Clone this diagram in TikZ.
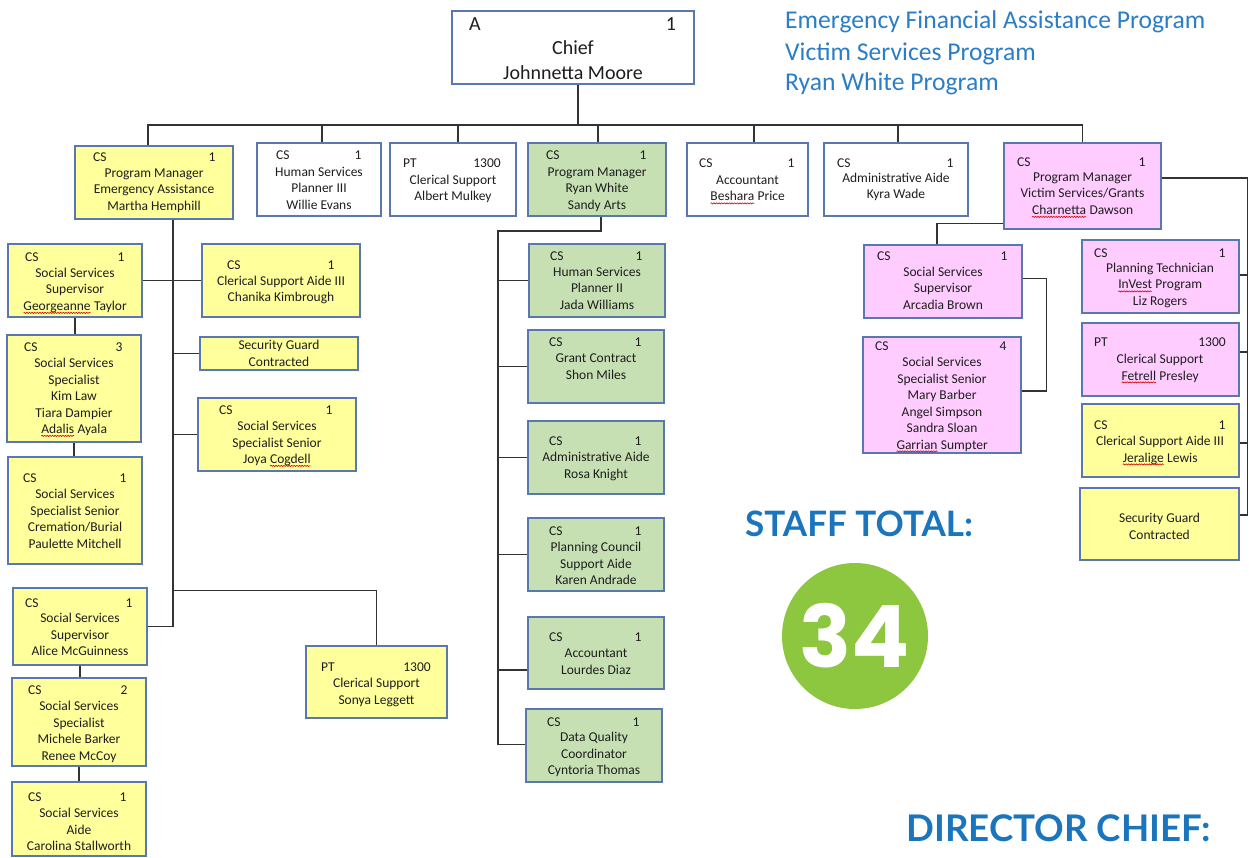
\documentclass[tikz,border=0pt]{standalone}
\usepackage{fontspec}
\setmainfont{Carlito}
\newfontfamily\latofont{Lato}
\newfontfamily\popfont{Poppins}
\usetikzlibrary{decorations.pathmorphing,calc}
\definecolor{bxborder}{HTML}{5A78B0}
\definecolor{yel}{HTML}{FFFF9B}
\definecolor{grn}{HTML}{C6E0B4}
\definecolor{pnk}{HTML}{FFCCFF}
\definecolor{hblue}{HTML}{2A7DC6}
\definecolor{sblue}{HTML}{1A75BC}
\definecolor{cgreen}{HTML}{8DC63F}
\definecolor{txcol}{HTML}{1E1E1E}
\newcommand\lns[1]{\begin{tabular}[t]{@{}c@{}}#1\end{tabular}}
\newcommand\sq[1]{\tikz[baseline=(sqw.base)]{\node[inner sep=0pt,outer sep=0pt,anchor=base] (sqw) {#1};\draw[red!85!black,line width=0.6pt,decorate,decoration={snake,amplitude=0.6pt,segment length=2.6pt}] ([yshift=-2.4pt]sqw.base west) -- ([yshift=-2.4pt]sqw.base east);}}
\newcommand\bx[6]{\node[orgbox,fill=#6,minimum width={#4-#2},minimum height={#5-#3}] (#1) at ({(#2+#4)/2},{(#3+#5)/2}) {};}
\newcommand\tl[4]{\node[tx] (#1-t) at (#2,#3+4.5) {\lns{#4}};}
\newcommand\cn[6]{\node[lab] (#1-c) at (#3,#4+4.5) {#2};\node[numlab] (#1-n) at (#6,#4+4.5) {#5};}
\begin{document}
\begin{tikzpicture}[x=1pt,y=-1pt,
  orgbox/.style={draw=bxborder,line width=1.1pt,rectangle,inner sep=0pt},
  tx/.style={font=\fontsize{13.5}{16.5}\selectfont,anchor=base,inner sep=0pt,text=txcol},
  lab/.style={font=\fontsize{13.5}{16.5}\selectfont,anchor=base west,inner sep=0pt,text=txcol},
  numlab/.style={font=\fontsize{13.5}{16.5}\selectfont,anchor=base,inner sep=0pt,text=txcol},
  conn/.style={draw=black!80,line width=1.1pt},
  hdr/.style={font=\fontsize{25.6}{30}\selectfont,anchor=base west,inner sep=0pt,text=hblue},
  big/.style={font=\latofont\bfseries,anchor=base west,inner sep=0pt,text=sblue}]
\useasboundingbox (0,0) rectangle (1249,858);
% boxes
\bx{chief}{452}{11}{694}{84}{white}
\bx{emg}{75}{146}{233}{219}{yel}
\bx{hsp}{257}{143}{381}{216}{white}
\bx{clr}{390}{143}{516}{216}{white}
\bx{rw}{528}{143}{666}{216}{grn}
\bx{acc}{687}{143}{808}{216}{white}
\bx{adm}{824}{143}{968}{216}{white}
\bx{vic}{1004}{143}{1161}{229}{pnk}
\bx{geo}{8}{244}{142}{317}{yel}
\bx{chk}{202}{244}{360}{317}{yel}
\bx{kim}{7}{335}{141}{442}{yel}
\bx{pau}{8}{457}{142}{564}{yel}
\bx{sga}{200}{337}{358}{370}{yel}
\bx{joy}{198}{398}{356}{471}{yel}
\bx{ali}{13}{588}{147}{665}{yel}
\bx{mic}{12}{678}{146}{766}{yel}
\bx{car}{12}{782}{146}{856}{yel}
\bx{son}{306}{646}{447}{718}{yel}
\bx{jad}{529}{244}{665}{317}{grn}
\bx{sho}{528}{330}{664}{403}{grn}
\bx{ros}{528}{421}{664}{494}{grn}
\bx{kar}{528}{518}{664}{591}{grn}
\bx{lou}{528}{617}{664}{689}{grn}
\bx{cyn}{526}{709}{662}{782}{grn}
\bx{arc}{864}{245}{1022}{318}{pnk}
\bx{mar}{863}{337}{1021}{453}{pnk}
\bx{liz}{1082}{240}{1239}{313}{pnk}
\bx{fet}{1082}{323}{1239}{396}{pnk}
\bx{jer}{1082}{404}{1239}{477}{yel}
\bx{sgb}{1080}{488}{1239}{560}{yel}
% chief text
\node[tx,font=\fontsize{20}{25}\selectfont] (chief-t) at (573,48+7) {\lns{Chief\\Johnnetta Moore}};
\node[lab,font=\fontsize{20}{25}\selectfont] (chief-c) at (469,24+7) {A};
\node[numlab,font=\fontsize{20}{25}\selectfont] (chief-n) at (671,24+7) {1};
% box texts
\tl{emg}{154}{173}{Program Manager\\Emergency Assistance\\Martha Hemphill}
\cn{emg}{CS}{93}{157}{1}{212}
\tl{hsp}{319}{172}{Human Services\\Planner III\\Willie Evans}
\cn{hsp}{CS}{276}{155}{1}{358}
\tl{clr}{453}{180}{Clerical Support\\Albert Mulkey}
\cn{clr}{PT}{403}{163}{1300}{487}
\tl{rw}{597}{172}{Program Manager\\Ryan White\\Sandy Arts}
\cn{rw}{CS}{546}{155}{1}{643}
\tl{acc}{747.5}{180}{Accountant\\\sq{Beshara} Price}
\cn{acc}{CS}{699}{163}{1}{791}
\tl{adm}{896}{178}{Administrative Aide\\Kyra Wade}
\cn{adm}{CS}{837}{163}{1}{950}
\tl{vic}{1082.5}{177}{Program Manager\\Victim Services/Grants\\\sq{Charnetta} Dawson}
\cn{vic}{CS}{1017}{162}{1}{1142}
\tl{geo}{75}{273}{Social Services\\Supervisor\\\sq{Georgeanne} Taylor}
\cn{geo}{CS}{25}{257}{1}{121}
\tl{chk}{281}{281}{Clerical Support Aide III\\Chanika Kimbrough}
\cn{chk}{CS}{227}{265}{1}{331}
\tl{kim}{74}{363}{Social Services\\Specialist\\Kim Law\\Tiara Dampier\\\sq{Adalis} Ayala}
\cn{kim}{CS}{24}{347}{3}{119}
\tl{pau}{75}{494}{Social Services\\Specialist Senior\\Cremation/Burial\\Paulette Mitchell}
\cn{pau}{CS}{23}{478}{1}{123}
\tl{sga}{279}{345}{Security Guard\\Contracted}
\tl{joy}{277}{426}{Social Services\\Specialist Senior\\Joya \sq{Cogdell}}
\cn{joy}{CS}{219}{410}{1}{329}
\tl{ali}{80}{618}{Social Services\\Supervisor\\Alice McGuinness}
\cn{ali}{CS}{25}{603}{1}{129}
\tl{mic}{79}{706}{Social Services\\Specialist\\Michele Barker\\Renee McCoy}
\cn{mic}{CS}{28}{690}{2}{124}
\tl{car}{79}{813}{Social Services\\Aide\\Carolina Stallworth}
\cn{car}{CS}{28}{797}{1}{123}
\tl{son}{376.5}{683}{Clerical Support\\Sonya Leggett}
\cn{son}{PT}{321}{667}{1300}{417}
\tl{jad}{597}{272}{Human Services\\Planner II\\Jada Williams}
\cn{jad}{CS}{550}{256}{1}{639}
\tl{sho}{596}{358}{Grant Contract\\Shon Miles}
\cn{sho}{CS}{549}{342}{1}{638}
\tl{ros}{596}{457}{Administrative Aide\\Rosa Knight}
\cn{ros}{CS}{549}{441}{1}{638}
\tl{kar}{596}{547}{Planning Council\\Support Aide\\Karen Andrade}
\cn{kar}{CS}{549}{531}{1}{638}
\tl{lou}{596}{653}{Accountant\\Lourdes Diaz}
\cn{lou}{CS}{549}{637}{1}{638}
\tl{cyn}{594}{737}{Data Quality\\Coordinator\\Cyntoria Thomas}
\cn{cyn}{CS}{547}{722}{1}{636}
\tl{arc}{943}{272}{Social Services\\Supervisor\\Arcadia Brown}
\cn{arc}{CS}{877}{256}{1}{1004}
\tl{mar}{942}{362}{Social Services\\Specialist Senior\\Mary Barber\\Angel Simpson\\Sandra Sloan\\\sq{Garrian} Sumpter}
\cn{mar}{CS}{875}{346}{4}{1003}
\tl{liz}{1160}{268}{Planning Technician\\\sq{InVest} Program\\Liz Rogers}
\cn{liz}{CS}{1094}{253}{1}{1222}
\tl{fet}{1160}{359}{Clerical Support\\\sq{Fetrell} Presley}
\cn{fet}{PT}{1094}{342}{1300}{1212}
\tl{jer}{1160}{441}{Clerical Support Aide III\\\sq{Jeralige} Lewis}
\cn{jer}{CS}{1094}{425}{1}{1222}
\tl{sgb}{1159.5}{518}{Security Guard\\Contracted}
% connectors: top level
\coordinate (bus) at (578,125);
\draw[conn] ([xshift=5]chief.south) -- (bus);
\draw[conn] ([xshift=-6]emg.north) |- (vic.north |- bus) -- (vic.north);
\draw[conn] ([xshift=3]hsp.north) -- ([xshift=3]hsp.north |- bus);
\draw[conn] ([xshift=5]clr.north) -- ([xshift=5]clr.north |- bus);
\draw[conn] ([xshift=1]rw.north) -- ([xshift=1]rw.north |- bus);
\draw[conn] ([xshift=6.5]acc.north) -- ([xshift=6.5]acc.north |- bus);
\draw[conn] ([xshift=2]adm.north) -- ([xshift=2]adm.north |- bus);
% emergency branch
\coordinate (esp) at ([xshift=19]emg.south);
\draw[conn] (esp) |- (ali.east);
\draw[conn] (geo.east) -- (chk.west);
\draw[conn] (sga.west) -- (sga.west -| esp);
\draw[conn] (joy.west) -- (joy.west -| esp);
\draw[conn] (son.north) |- ([yshift=-3]ali.north -| esp);
\draw[conn] (geo.south) -- (geo.south |- kim.north);
\draw[conn] (kim.south) -- (kim.south |- pau.north);
\draw[conn] (ali.south) -- (ali.south |- mic.north);
\draw[conn] (mic.south) -- (mic.south |- car.north);
% ryan white branch
\coordinate (rsp) at (498,231);
\draw[conn] ([xshift=4]rw.south) |- (rsp) |- ([yshift=1]cyn.west);
\draw[conn] (jad.west) -- (jad.west -| rsp);
\draw[conn] (sho.west) -- (sho.west -| rsp);
\draw[conn] (ros.west) -- (ros.west -| rsp);
\draw[conn] (kar.west) -- (kar.west -| rsp);
\draw[conn] ([yshift=-17]lou.west) -- ([yshift=-17]lou.west -| rsp);
% victim branch
\draw[conn] ([yshift=6]vic.south west) -| ([xshift=-6]arc.north);
\draw[conn] ([yshift=3]arc.east) -- ++(24,0) |- ([yshift=4]mar.east);
\draw[conn] ([yshift=8]vic.east) -| ([xshift=8,yshift=9]sgb.east) -- ([yshift=9]sgb.east);
\draw[conn] ([yshift=1.5]liz.east) -- ++(8,0);
\draw[conn] ([yshift=7.5]fet.east) -- ++(8,0);
\draw[conn] ([yshift=-2.5]jer.east) -- ++(8,0);
% header
\node[hdr] (h1) at (785,21+7.5) {Emergency Financial Assistance Program};
\node[hdr] (h2) at (785,53+7.5) {Victim Services Program};
\node[hdr] (h3) at (785,83+7.5) {Ryan White Program};
% staff total
\node[big,font=\latofont\bfseries\fontsize{35}{40}\selectfont] (staff) at (745,536) {STAFF TOTAL:};
\node[circle,fill=cgreen,minimum size=146pt,inner sep=0pt] (circ) at (855,636) {};
\node[font=\popfont\bfseries\fontsize{86}{90}\selectfont,text=white,inner sep=0pt] (num) at (circ) {34};
\node[big,font=\latofont\bfseries\fontsize{36.7}{44}\selectfont] (dir) at (906,841) {DIRECTOR CHIEF:};
\end{tikzpicture}
\end{document}
